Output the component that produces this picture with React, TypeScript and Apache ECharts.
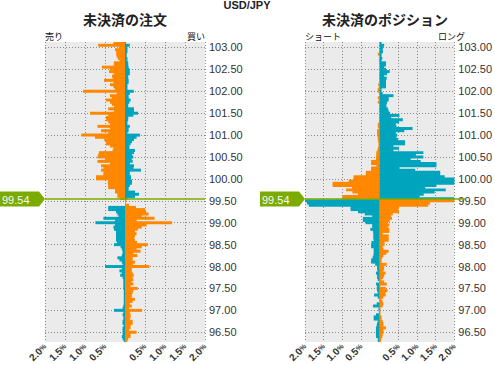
import React, { useEffect, useRef } from 'react';
import * as echarts from 'echarts';

// price levels run from PRICE_TOP downward in steps of PRICE_STEP (top row first)
const PRICE_TOP = 103.1;
const PRICE_STEP = 0.05;
const CURRENT_PRICE = 99.54;

const pairTitle = 'USD/JPY';
const panelTitles = ['未決済の注文', '未決済のポジション'];
const sideLabels = [
  ['売り', '買い'],
  ['ショート', 'ロング'],
];

// open orders (%), left side and right side, 103.10 -> 96.30
const ordersLeft = [
  0.29, 0.67, 0.15, 0.25, 0.22, 0.22, 0.21, 0.18, 0.14, 0.28,
  0.28, 0.575, 0.375, 0.4, 0.28, 0.325, 0.31, 0.525, 0.29, 0.375,
  0.29, 0.25, 1.05, 0.21, 0.375, 0.33, 0.475, 0.375, 0.33, 0.275,
  0.42, 0.275, 0.875, 0.42, 0.475, 0.475, 0.42, 0.375, 0.69, 0.375,
  0.6, 0.42, 1.09, 0.75, 0.52, 0.475, 0.475, 0.375, 0.29, 0.31,
  0.65, 0.67, 0.69, 0.5, 0.69, 0.375, 0.6, 0.54, 0.6, 0.54,
  0.54, 0.725, 0.725, 0.42, 0.43, 0.42, 0.42, 0.25, 0.25, 0.19,
  0.19, 0.125, 0, 0, 0, 0.42, 0.42, 0.225, 0.19, 0.16,
  0.54, 0.25, 0.74, 0.25, 0.29, 0.275, 0.225, 0.225, 0.225, 0.225,
  0.225, 0.2, 0.275, 0.11, 0.08, 0.06, 0.06, 0.08, 0.19, 0.14,
  0.08, 0.06, 0.5, 0.08, 0.14, 0.08, 0.12, 0.06, 0.04, 0.04,
  0.04, 0.04, 0.04, 0.03, 0.03, 0.03, 0.03, 0.03, 0.03, 0.03,
  0.04, 0.06, 0.275, 0.04, 0.06, 0.04, 0.04, 0.06, 0.06, 0.03,
  0.06, 0.06, 0.06, 0.06, 0.08, 0.06, 0.03,
];
const ordersRight = [
  0.02, 0.12, 0.06, 0.06, 0.06, 0.04, 0.04, 0.06, 0.06, 0.08,
  0.08, 0.09, 0.11, 0.12, 0.12, 0.08, 0.08, 0.09, 0.09, 0.06,
  0.06, 0.06, 0.22, 0.12, 0.09, 0.09, 0.14, 0.11, 0.08, 0.08,
  0.225, 0.225, 0.325, 0.21, 0.08, 0.08, 0.06, 0.06, 0.12, 0.09,
  0.09, 0.06, 0.375, 0.29, 0.225, 0.175, 0.14, 0.11, 0.11, 0.25,
  0.225, 0.175, 0.21, 0.17, 0.19, 0.12, 0.225, 0.21, 0.4, 0.12,
  0.12, 0.15, 0.15, 0.175, 0.175, 0.12, 0.09, 0.09, 0.25, 0.35,
  0.25, 0.06, 0.03, 0.02, 0.1, 0.275, 0.5, 0.525, 0.59, 0.42,
  0.74, 0.29, 1.175, 0.54, 0.42, 0.32, 0.25, 0.29, 0.25, 0.23,
  0.25, 0.3, 0.57, 0.42, 0.29, 0.39, 0.21, 0.31, 0.19, 0.19,
  0.25, 0.2, 0.61, 0.17, 0.17, 0.19, 0.22, 0.19, 0.21, 0.17,
  0.21, 0.14, 0.32, 0.21, 0.19, 0.17, 0.17, 0.25, 0.19, 0.12,
  0.17, 0.1, 0.43, 0.12, 0.14, 0.14, 0.12, 0.19, 0.19, 0.14,
  0.14, 0.1, 0.29, 0.14, 0.14, 0.08, 0.06,
];

// open positions (%), left side and right side, 103.10 -> 96.30
const positionsLeft = [
  0.01, 0.01, 0.01, 0.01, 0.01, 0.05, 0.01, 0.01, 0.01, 0.01,
  0.01, 0.01, 0.01, 0.01, 0.01, 0.01, 0.01, 0.01, 0.01, 0.04,
  0.01, 0.05, 0.05, 0.01, 0.01, 0.05, 0.01, 0.05, 0.01, 0.01,
  0.01, 0.02, 0.01, 0.02, 0.01, 0.02, 0.01, 0.05, 0.05, 0.03,
  0.07, 0.07, 0.07, 0.05, 0.05, 0.04, 0.03, 0.03, 0.05, 0.06,
  0.09, 0.09, 0.1, 0.1, 0.23, 0.23, 0.09, 0.23, 0.23, 0.37,
  0.37, 0.7, 0.7, 0.83, 1.26, 1.26, 0.74, 0.9, 0.73, 0.58,
  1.0, 1.0, 2.0, 1.95, 1.9, 0.78, 0.78, 0.58, 0.4, 0.2,
  0.45, 0.45, 0.38, 0.2, 0.2, 0.25, 0.18, 0.17, 0.17, 0.17,
  0.16, 0.22, 0.23, 0.23, 0.16, 0.16, 0.16, 0.17, 0.19, 0.23,
  0.23, 0.12, 0.07, 0.07, 0.06, 0.1, 0.07, 0.07, 0.05, 0.01,
  0.1, 0.07, 0.08, 0.07, 0.05, 0.15, 0.05, 0.01, 0.01, 0.08,
  0.18, 0.03, 0.03, 0.01, 0.1, 0.16, 0.16, 0.05, 0.07, 0.08,
  0.1, 0.1, 0.1, 0.1, 0.1, 0.05, 0.05,
];
const positionsRight = [
  0.05, 0.12, 0.09, 0.08, 0.09, 0.05, 0.05, 0.07, 0.05, 0.17,
  0.17, 0.12, 0.17, 0.27, 0.2, 0.12, 0.19, 0.17, 0.17, 0.17,
  0.17, 0.05, 0.05, 0.08, 0.37, 0.24, 0.24, 0.2, 0.18, 0.18,
  0.22, 0.24, 0.28, 0.53, 0.31, 0.62, 0.52, 0.43, 0.45, 0.88,
  0.66, 0.43, 0.47, 0.45, 0.49, 0.68, 0.68, 0.37, 0.52, 0.37,
  1.17, 0.97, 1.17, 0.83, 1.1, 1.52, 1.52, 0.53, 0.95, 1.62,
  1.62, 1.74, 2.0, 2.0, 2.0, 1.52, 1.22, 1.77, 1.47, 1.18,
  1.07, 2.0, 2.0, 1.35, 1.3, 0.52, 0.5, 0.52, 0.35, 0.3,
  0.33, 0.27, 0.22, 0.26, 0.22, 0.26, 0.26, 0.08, 0.24, 0.24,
  0.24, 0.13, 0.13, 0.08, 0.1, 0.24, 0.18, 0.1, 0.07, 0.05,
  0.05, 0.19, 0.12, 0.12, 0.1, 0.16, 0.12, 0.1, 0.05, 0.12,
  0.19, 0.02, 0.16, 0.21, 0.16, 0.16, 0.1, 0.05, 0.08, 0.1,
  0.08, 0.02, 0.02, 0.02, 0.02, 0.05, 0.05, 0.08, 0.1, 0.1,
  0.17, 0.1, 0.1, 0.08, 0.07, 0.04, 0.04,
];

const ORANGE = '#ff8800';
const TEAL = '#00a4bd';
const GREEN = '#7cab00';
const PLOT_BG = '#ebebeb';
const GRID_COLOR = '#8a8a8a';
const TEXT = '#333333';
const JP_FONT = '"Noto Sans CJK JP", "Noto Sans", sans-serif';
const NUM_FONT = '"Liberation Sans Narrow", "Liberation Sans", Arial, sans-serif';

const GRIDS = [
  { left: 45, top: 42, width: 160, height: 301 },
  { left: 305, top: 42, width: 160, height: 301 },
];

export default function App() {
  const ref = useRef<HTMLDivElement>(null);

  useEffect(() => {
    if (!ref.current) return;
    const chart = echarts.init(ref.current, undefined, { renderer: 'svg' });

    const levels = ordersLeft.map((_, i) => Number((PRICE_TOP - i * PRICE_STEP).toFixed(2)));
    const axisMax = PRICE_TOP + PRICE_STEP / 2;
    const axisMin = levels[levels.length - 1] - PRICE_STEP / 2;
    const panels = [
      { left: ordersLeft, right: ordersRight },
      { left: positionsLeft, right: positionsRight },
    ];

    const item = (value: number, color: string) => ({ value, itemStyle: { color } });

    const xAxis: any[] = [];
    const yAxis: any[] = [];
    const series: any[] = [];

    panels.forEach((p, g) => {
      xAxis.push({
        type: 'value',
        gridIndex: g,
        min: -2,
        max: 2,
        interval: 0.5,
        axisLine: { show: false },
        axisTick: { show: false },
        splitLine: { show: true, lineStyle: { color: GRID_COLOR, type: [1, 2], width: 1 } },
        axisLabel: {
          rotate: 45,
          margin: 3,
          formatter: (v: number) => (Math.abs(v) < 1e-9 ? '' : `{n|${Math.abs(v).toFixed(1)}}{p|%}`),
          rich: {
            n: { fontSize: 10, color: TEXT, fontFamily: NUM_FONT, fontWeight: 'bold' },
            p: { fontSize: 7, color: TEXT, fontFamily: NUM_FONT, fontWeight: 'bold' },
          },
        },
      });
      yAxis.push({
        type: 'category',
        gridIndex: g,
        data: levels.map((l) => l.toFixed(2)),
        inverse: true,
        show: false,
      });
      yAxis.push({
        type: 'value',
        gridIndex: g,
        position: 'right',
        min: axisMin,
        max: axisMax,
        splitNumber: 14,
        minInterval: 0.5,
        maxInterval: 0.5,
        axisLine: { show: false },
        axisTick: { show: false },
        axisLabel: {
          showMinLabel: false,
          showMaxLabel: false,
          margin: 4,
          color: TEXT,
          fontSize: 11,
          fontFamily: NUM_FONT,
          formatter: (v: number) => v.toFixed(2),
        },
        splitLine: {
          show: true,
          showMinLine: false,
          showMaxLine: false,
          lineStyle: { color: GRID_COLOR, type: [1, 2], width: 1 },
        },
      });
      series.push({
        type: 'bar',
        xAxisIndex: g,
        yAxisIndex: 2 * g,
        stack: 'panel' + g,
        barWidth: '135%',
        silent: true,
        data: p.left.map((v, i) => item(-v, levels[i] > CURRENT_PRICE ? ORANGE : TEAL)),
      });
      series.push({
        type: 'bar',
        xAxisIndex: g,
        yAxisIndex: 2 * g,
        stack: 'panel' + g,
        barWidth: '135%',
        silent: true,
        data: p.right.map((v, i) => item(v, levels[i] > CURRENT_PRICE ? TEAL : ORANGE)),
      });
    });

    chart.setOption({
      animation: false,
      grid: GRIDS.map((gr) => ({ ...gr, show: true, backgroundColor: PLOT_BG, borderWidth: 0 })),
      xAxis,
      yAxis,
      series,
    });

    const graphics: any[] = [
      {
        type: 'text',
        x: 247,
        y: 5,
        z: 100,
        style: { text: pairTitle, fill: '#222', font: 'bold 11px "Liberation Sans", Arial, sans-serif', textAlign: 'center', textVerticalAlign: 'middle' },
      },
    ];
    GRIDS.forEach((gr, g) => {
      graphics.push({
        type: 'text',
        x: gr.left + gr.width / 2,
        y: 19,
        z: 100,
        style: { text: panelTitles[g], fill: '#222', font: `bold 14px ${JP_FONT}`, textAlign: 'center', textVerticalAlign: 'middle' },
      });
      graphics.push({
        type: 'text',
        x: gr.left,
        y: 36,
        z: 100,
        style: { text: sideLabels[g][0], fill: '#111', font: `9px ${JP_FONT}`, textAlign: 'left', textVerticalAlign: 'middle' },
      });
      graphics.push({
        type: 'text',
        x: gr.left + gr.width,
        y: 36,
        z: 100,
        style: { text: sideLabels[g][1], fill: '#111', font: `9px ${JP_FONT}`, textAlign: 'right', textVerticalAlign: 'middle' },
      });
      const yPix = chart.convertToPixel({ yAxisIndex: 2 * g + 1 } as any, CURRENT_PRICE) as number;
      const tagLeft = g === 0 ? 0 : gr.left - 45;
      const tipX = gr.left;
      const bodyRight = tipX - 6;
      graphics.push({
        type: 'line',
        z: 100,
        shape: { x1: gr.left, y1: yPix, x2: gr.left + gr.width, y2: yPix },
        style: { stroke: GREEN, lineWidth: 1.5 },
      });
      graphics.push({
        type: 'polygon',
        z: 100,
        shape: {
          points: [
            [tagLeft, yPix - 7.5],
            [bodyRight, yPix - 7.5],
            [tipX, yPix],
            [bodyRight, yPix + 7.5],
            [tagLeft, yPix + 7.5],
          ],
        },
        style: { fill: GREEN },
      });
      graphics.push({
        type: 'text',
        x: tagLeft + 2,
        y: yPix + 0.5,
        z: 101,
        style: { text: CURRENT_PRICE.toFixed(2), fill: '#f4f8ff', font: '11px "Liberation Sans", Arial, sans-serif', textAlign: 'left', textVerticalAlign: 'middle' },
      });
    });

    chart.setOption({ graphic: graphics });

    return () => chart.dispose();
  }, []);

  return (
    <div
      ref={ref}
      style={{ position: 'absolute', left: 0, top: 0, width: 495, height: 365, background: '#fff' }}
    />
  );
}
